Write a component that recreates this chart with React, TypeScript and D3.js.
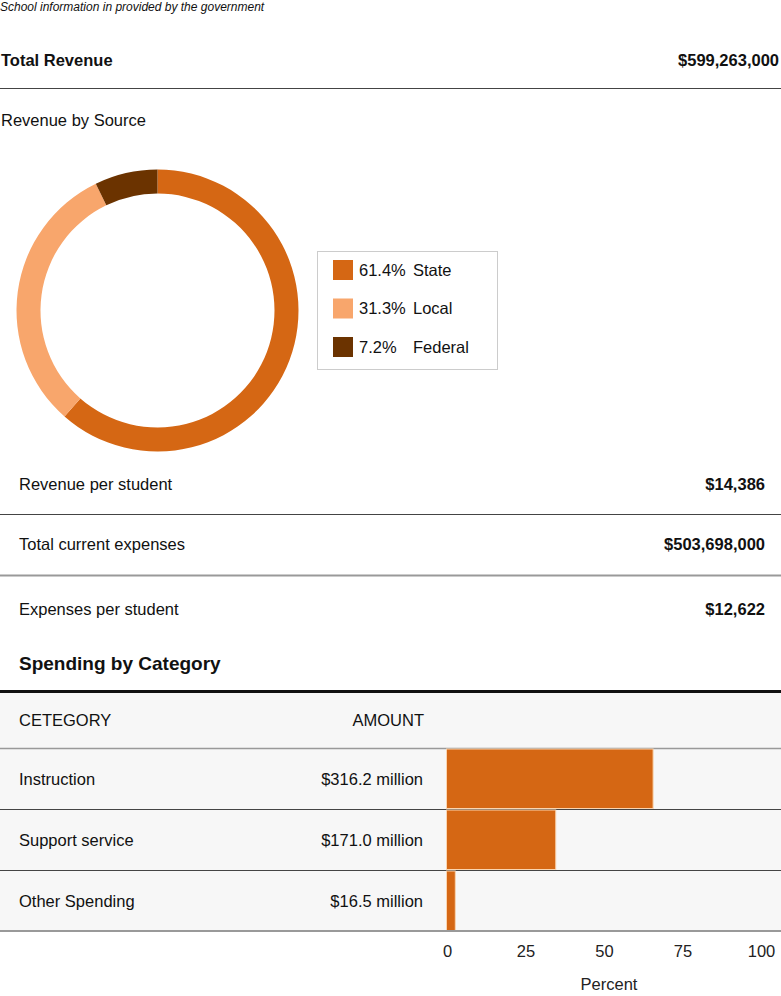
import React from "react";
import * as d3 from "d3";

const sourceNames = ["State", "Local", "Federal"];
const sourceShares = [61.4, 31.3, 7.2];
const sourceLabels = ["61.4%", "31.3%", "7.2%"];
const sourceColors = ["#D56714", "#F8A66C", "#6B3300"];

const summaryLabels = ["Revenue per student", "Total current expenses", "Expenses per student"];
const summaryValues = ["$14,386", "$503,698,000", "$12,622"];

const categories = ["Instruction", "Support service", "Other Spending"];
const amounts = ["$316.2 million", "$171.0 million", "$16.5 million"];
const percents = [65.8, 34.8, 2.8];
const percentTicks = [0, 25, 50, 75, 100];

const FONT = "'Liberation Sans', Arial, Helvetica, sans-serif";

export default function App() {
  const W = 781;
  const H = 996;

  const pie = d3
    .pie<number>()
    .sort(null)
    .value((d) => d)
    .startAngle(0)
    .endAngle(2 * Math.PI);
  const arcs = pie(sourceShares);
  const arc = d3.arc<d3.PieArcDatum<number>>().innerRadius(117).outerRadius(141);

  const rowY = d3.scaleBand<string>().domain(categories).range([748, 931]).padding(0);
  const x = d3.scaleLinear().domain([0, 100]).range([446.5, 760.5]);

  const summaryY = d3.scalePoint<string>().domain(summaryLabels).range([490, 615]);
  const legendY = d3.scalePoint<string>().domain(sourceNames).range([270, 347]);

  return (
    <svg
      width={W}
      height={H}
      style={{ position: "absolute", left: 0, top: 0, fontFamily: FONT }}
    >
      <rect x={0} y={0} width={W} height={H} fill="#fff" />
      <text x={0} y={11} fontSize={12} fontStyle="italic" fill="#111">
        School information in provided by the government
      </text>

      <text x={1} y={66} fontSize={16.5} fontWeight="bold" fill="#111">
        Total Revenue
      </text>
      <text x={779} y={66} fontSize={16.5} fontWeight="bold" fill="#111" textAnchor="end">
        $599,263,000
      </text>
      <line x1={0} x2={781} y1={88.5} y2={88.5} stroke="#444" strokeWidth={1} />

      <text x={1} y={126} fontSize={16.5} fill="#111">
        Revenue by Source
      </text>

      <g transform="translate(157.5,310.5)">
        {arcs.map((a, i) => (
          <path key={i} d={arc(a) || ""} fill={sourceColors[i]} />
        ))}
      </g>

      <rect x={317.5} y={251.5} width={180} height={118} fill="#fff" stroke="#ccc" strokeWidth={1} />
      {sourceNames.map((n, i) => {
        const cy = legendY(n)!;
        return (
          <g key={n}>
            <rect x={333} y={cy - 10} width={20} height={20} fill={sourceColors[i]} />
            <text x={359} y={cy + 5.5} fontSize={16.5} fill="#111">
              {sourceLabels[i]}
            </text>
            <text x={413} y={cy + 5.5} fontSize={16.5} fill="#111">
              {n}
            </text>
          </g>
        );
      })}

      {summaryLabels.map((l, i) => {
        const y = summaryY(l)! - (i === 1 ? 3 : 0);
        return (
          <g key={l}>
            <text x={19} y={y} fontSize={16.5} fill="#111">
              {l}
            </text>
            <text x={765} y={y} fontSize={16.5} fontWeight="bold" fill="#111" textAnchor="end">
              {summaryValues[i]}
            </text>
          </g>
        );
      })}
      <line x1={0} x2={781} y1={514.5} y2={514.5} stroke="#444" strokeWidth={1} />
      <line x1={0} x2={781} y1={575.5} y2={575.5} stroke="#999" strokeWidth={2} />

      <text x={19} y={670} fontSize={19} fontWeight="bold" fill="#111">
        Spending by Category
      </text>

      <rect x={0} y={692} width={781} height={239} fill="#f7f7f7" />
      <line x1={0} x2={781} y1={691.5} y2={691.5} stroke="#111" strokeWidth={3} />
      <text x={19} y={726} fontSize={16.5} fill="#111">
        CETEGORY
      </text>
      <text x={424} y={726} fontSize={16.5} fill="#111" textAnchor="end">
        AMOUNT
      </text>
      <line x1={0} x2={781} y1={748.5} y2={748.5} stroke="#999" strokeWidth={1.5} />

      {categories.map((c, i) => {
        const y0 = rowY(c)!;
        const bw = rowY.bandwidth();
        return (
          <g key={c}>
            <rect
              x={x(0)}
              y={y0 + 1}
              width={x(percents[i]) - x(0)}
              height={bw - 1.5}
              fill="#D56714"
              stroke="#FBD5B0"
              strokeWidth={1}
            />
            <text x={19} y={y0 + bw / 2 + 6} fontSize={16.5} fill="#111">
              {c}
            </text>
            <text x={423} y={y0 + bw / 2 + 6} fontSize={16.5} fill="#111" textAnchor="end">
              {amounts[i]}
            </text>
            {i < categories.length - 1 && (
              <line x1={0} x2={781} y1={y0 + bw + 0.5} y2={y0 + bw + 0.5} stroke="#444" strokeWidth={1} />
            )}
          </g>
        );
      })}
      <line x1={0} x2={781} y1={931} y2={931} stroke="#999" strokeWidth={2} />

      {percentTicks.map((t) => (
        <text key={t} x={x(t) + 1} y={957} fontSize={16.5} fill="#222" textAnchor="middle">
          {t}
        </text>
      ))}
      <text x={609} y={990} fontSize={16.5} fill="#222" textAnchor="middle">
        Percent
      </text>
    </svg>
  );
}
